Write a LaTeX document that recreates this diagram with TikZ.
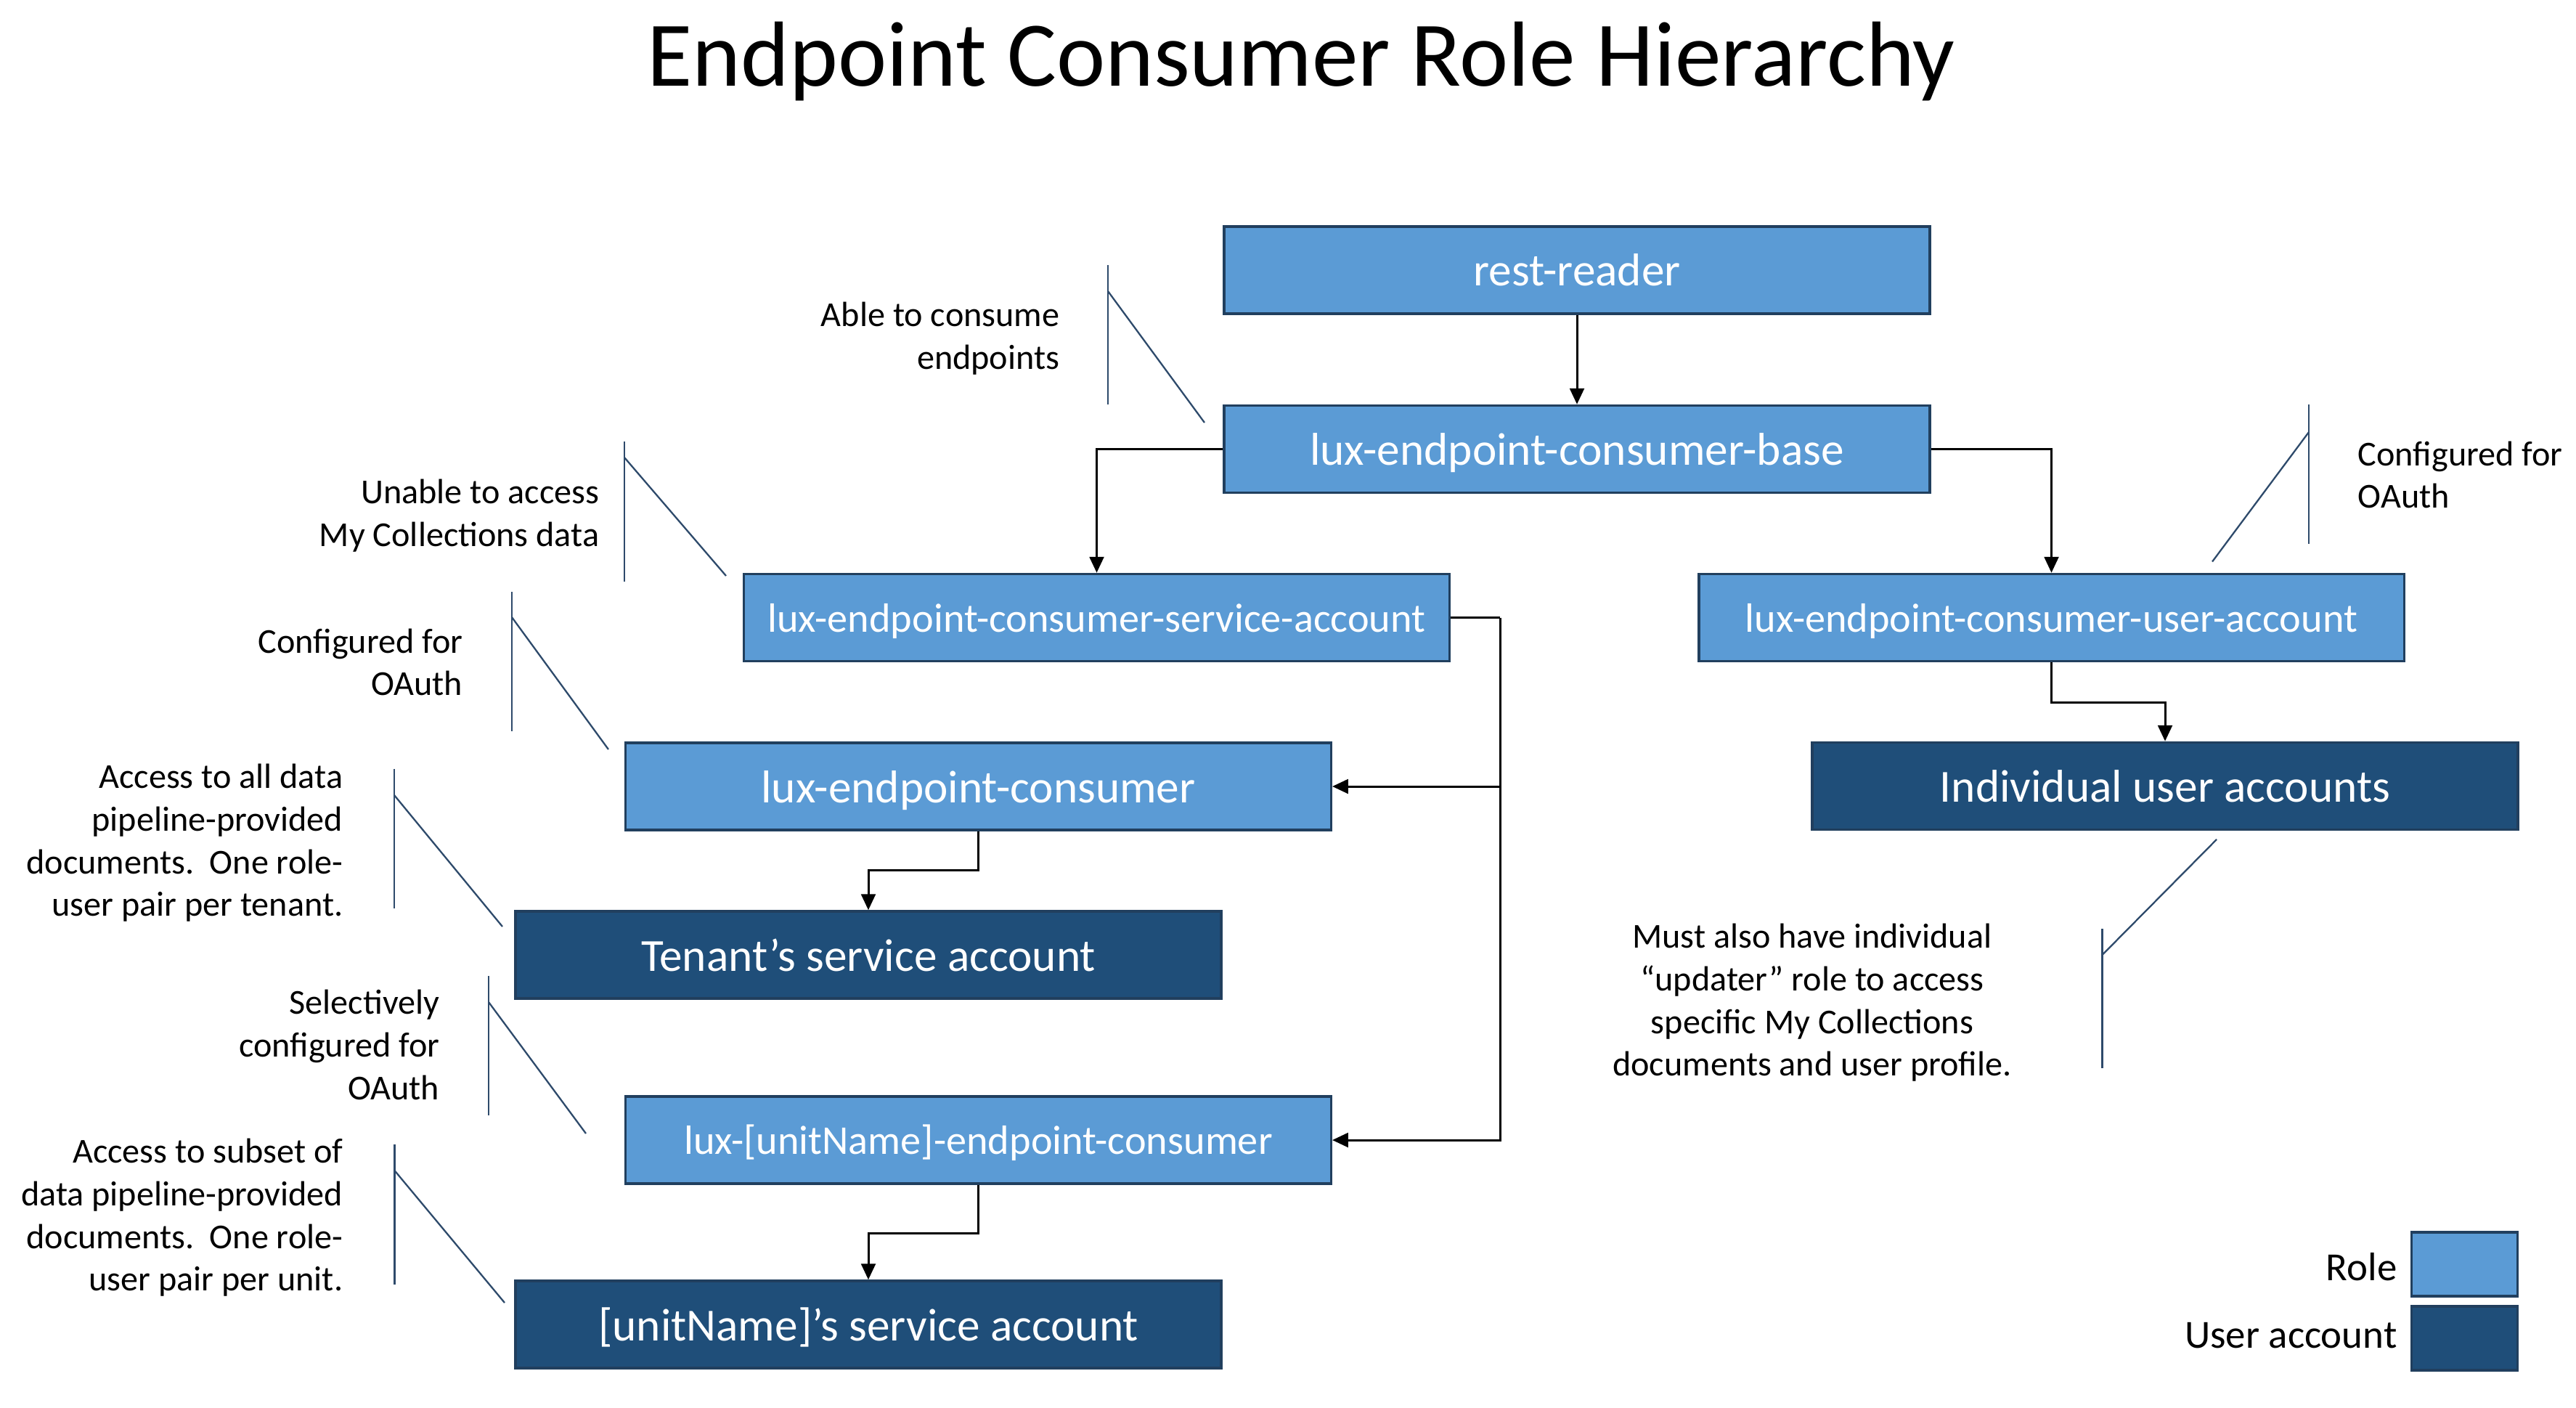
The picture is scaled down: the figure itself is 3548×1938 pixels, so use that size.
\documentclass[tikz,border=0pt]{standalone}
\usepackage{fontspec}
\setmainfont{Carlito}
\usetikzlibrary{arrows.meta}
\definecolor{rolec}{HTML}{5B9BD5}
\definecolor{userc}{HTML}{1F4E79}
\definecolor{bordc}{HTML}{213F5E}
\definecolor{callc}{HTML}{2E4A6B}
\tikzset{
  rolebox/.style={draw=bordc, fill=rolec, line width=1pt, minimum width=9.71cm, minimum height=1.2cm, text=white, inner sep=0pt, font=\fontsize{18}{22}\selectfont, text height=12.5pt, text depth=0pt},
  userbox/.style={rolebox, fill=userc},
  smalltext/.style={font=\fontsize{16}{19}\selectfont, text height=11.1pt, text depth=0pt},
  conn/.style={draw=black, line width=0.85pt, -{Triangle[length=6.2pt,width=5.6pt]}},
  callline/.style={draw=callc, line width=0.65pt},
  note/.style={font=\fontsize{13.7}{16.7}\selectfont, inner sep=0pt},
  legendbox/.style={draw=bordc, line width=1pt, minimum width=1.46cm, minimum height=0.88cm, inner sep=0pt}
}
\begin{document}
\begin{tikzpicture}[x=0.01cm,y=-0.01cm]
\useasboundingbox[fill=white] (0,0) rectangle (3548,1938);

% title
\node[anchor=base, inner sep=0pt, font=\fontsize{36.2}{43}\selectfont] (title) at (1792,118) {Endpoint Consumer Role Hierarchy};

% boxes
\node[rolebox] (rr) at (2172,372) {rest-reader};
\node[rolebox] (base) at (2172,618.5) {lux-endpoint-consumer-base};
\node[rolebox, smalltext] (sa) at (1510.5,850.5) {lux-endpoint-consumer-service-account};
\node[rolebox, smalltext] (ua) at (2825.5,850.5) {lux-endpoint-consumer-user-account};
\node[rolebox] (c) at (1347.5,1083) {lux-endpoint-consumer};
\node[userbox] (iu) at (2982,1082.5) {Individual user accounts};
\node[userbox] (ts) at (1196,1315) {Tenant’s service account};
\node[rolebox, smalltext] (ue) at (1347.5,1570) {lux-[unitName]-endpoint-consumer};
\node[userbox] (us) at (1196,1824) {[unitName]’s service account};

% connectors
\draw[conn] (rr) -- (base);
\draw[conn] (base.west) -| (sa.north);
\draw[conn] (base.east) -| (ua.north);
\coordinate (jn) at (2066,850.5);
\draw[line width=0.85pt] (sa.east) -- (jn);
\draw[conn] (jn) |- (c.east);
\draw[conn] (jn) |- (ue.east);
\draw[conn] (c.south) -- ++(0,54) -| (ts.north);
\draw[conn] (ue.south) -- ++(0,67) -| (us.north);
\draw[conn] (ua.south) -- ++(0,55) -| (iu.north);

% callouts
\node[note, anchor=east, align=right] (n1) at (1460,466) {Able to consume\\endpoints};
\draw[callline] (1526,365) -- (1526,557);
\draw[callline] (1526,401) -- (1659,582);

\node[note, anchor=east, align=right] (n2) at (826,710) {Unable to access\\My Collections data};
\draw[callline] (860,608) -- (860,801);
\draw[callline] (860,630) -- (1000,793);

\node[note, anchor=east, align=right] (n3) at (638,912) {Configured for\\OAuth};
\draw[callline] (705,815) -- (705,1007);
\draw[callline] (705,850) -- (838,1032);

\node[note, anchor=east, align=right] (n4) at (473,1161) {Access to all data\\pipeline-provided\\documents.\ \ One role-\\user pair per tenant.};
\draw[callline] (543,1059) -- (543,1251);
\draw[callline] (543,1095) -- (692,1276);

\node[note, anchor=east, align=right] (n5) at (606,1439) {Selectively\\configured for\\OAuth};
\draw[callline] (673,1344) -- (673,1536);
\draw[callline] (673,1380) -- (807,1561);

\node[note, anchor=east, align=right] (n6) at (473,1677) {Access to subset of\\data pipeline-provided\\documents.\ \ One role-\\user pair per unit.};
\draw[callline] (543.5,1576) -- (543.5,1769);
\draw[callline] (543.5,1612) -- (695,1794);

\node[note, anchor=west, align=left] (n7) at (3247,654) {Configured for\\OAuth};
\draw[callline] (3180,557) -- (3180,749);
\draw[callline] (3180,595) -- (3047,773.5);

\node[note, anchor=center, align=center] (n8) at (2496,1381) {Must also have individual\\“updater” role to access\\specific My Collections\\documents and user profile.};
\draw[callline] (2895.5,1279) -- (2895.5,1471);
\draw[callline] (2895.5,1315) -- (3053,1156);

% legend
\node[legendbox, fill=rolec] (lrole) at (3394.5,1741) {};
\node[legendbox, fill=userc] (luser) at (3394.5,1843) {};
\node[anchor=base east, inner sep=0pt, font=\fontsize{15.6}{19}\selectfont] (trole) at (3302,1763) {Role};
\node[anchor=base east, inner sep=0pt, font=\fontsize{15.6}{19}\selectfont] (tuser) at (3302,1856) {User account};
\end{tikzpicture}
\end{document}
